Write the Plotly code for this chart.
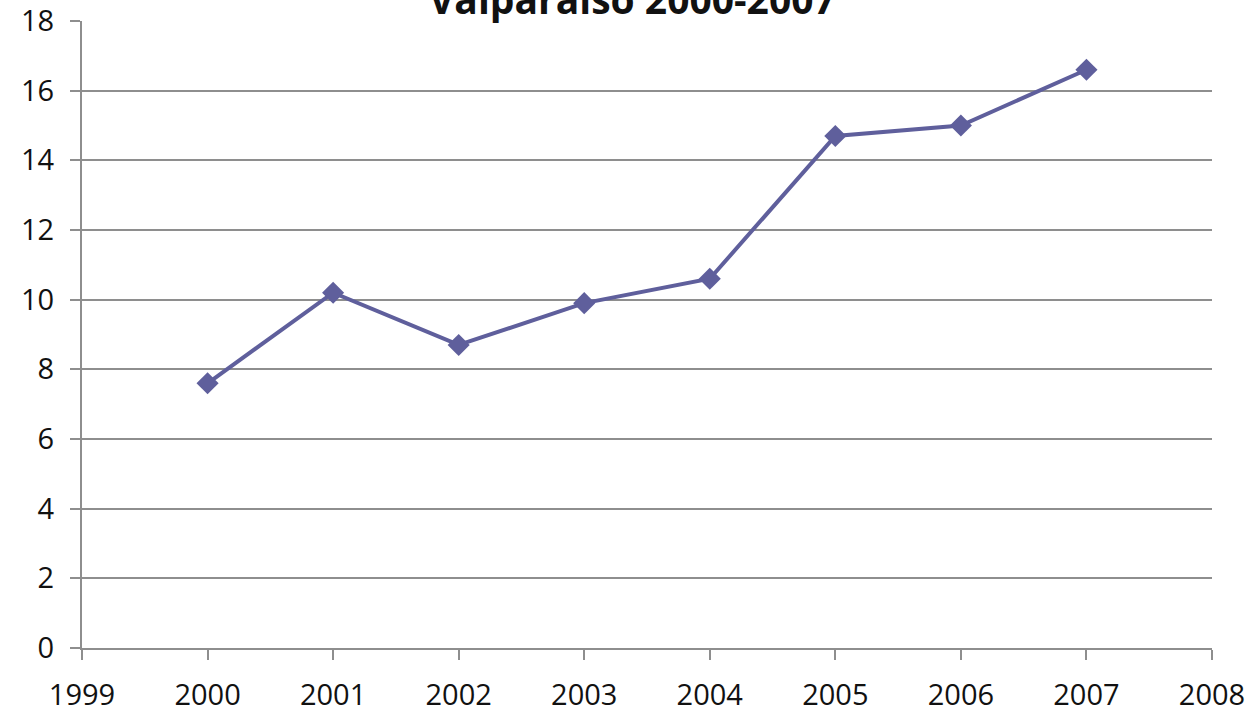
import plotly.graph_objects as go

years = [2000, 2001, 2002, 2003, 2004, 2005, 2006, 2007]
values = [7.6, 10.2, 8.7, 9.9, 10.6, 14.7, 15.0, 16.6]
title_text = "Valparaiso 2000-2007"

fig = go.Figure()
fig.add_trace(go.Scatter(
    x=years, y=values, mode="lines+markers",
    line=dict(color="#5f5f9c", width=4),
    marker=dict(symbol="diamond", size=17, color="#5f5f9c"),
    showlegend=False, cliponaxis=False,
))

grid = "#8e8e8e"
fig.update_layout(
    width=1258, height=716,
    margin=dict(l=82, r=46, t=21, b=68),
    paper_bgcolor="white", plot_bgcolor="white",
    font=dict(family="Open Sans", size=29, color="#111"),
    xaxis=dict(range=[1999, 2008], dtick=1, tick0=1999, showgrid=False,
               showline=True, linecolor=grid, linewidth=2,
               ticks="outside", ticklen=10, tickwidth=2, tickcolor=grid,
               zeroline=False, ticklabelstandoff=10, automargin=False,
               ticklabeloverflow="allow"),
    yaxis=dict(range=[0, 18], dtick=2, showgrid=True, gridcolor=grid, gridwidth=2,
               showline=True, linecolor=grid, linewidth=2,
               ticks="outside", ticklen=10, tickwidth=2, tickcolor=grid,
               zeroline=False, ticklabelstandoff=10, automargin=False,
               ticklabeloverflow="allow"),
    annotations=[dict(text="<b>" + title_text + "</b>", xref="paper", yref="paper",
                      x=0.487, y=1, xanchor="center", yanchor="bottom", yshift=-6,
                      showarrow=False, font=dict(size=39, color="#111"))],
)
fig.write_html("out.html", config={"displayModeBar": False},
               post_script="document.body.style.margin='0';document.body.style.overflow='hidden';")
